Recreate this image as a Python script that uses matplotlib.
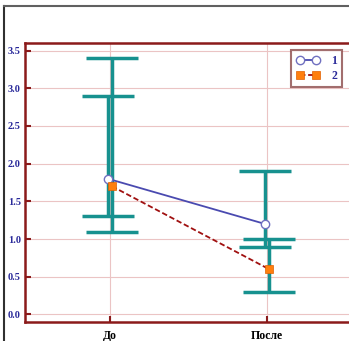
import numpy as np
import matplotlib.pyplot as plt
from matplotlib.lines import Line2D

# data
categorias = ['До', 'После']
media1 = [1.8, 1.2]
inf1 = [1.3, 0.9]
sup1 = [2.9, 1.9]
media2 = [1.7, 0.6]
inf2 = [1.1, 0.3]
sup2 = [3.4, 1.0]
yticks = [0.0, 0.5, 1.0, 1.5, 2.0, 2.5, 3.0, 3.5]

rojo = '#8B1A1A'
azul = '#2A2A9A'
teal = '#17918F'

fig = plt.figure(figsize=(3.49, 3.41), dpi=100)
# marco exterior de la figura
fig.add_artist(Line2D([4/349, 4/349], [0, 1 - 6/341], color='#303030', lw=1.5))
fig.add_artist(Line2D([4/349, 1], [1 - 6/341, 1 - 6/341], color='#606060', lw=1.5))

ax = fig.add_axes([25/349, 1 - 322/341, 327/349, 279/341])

x = np.arange(len(categorias))
d = 0.013

def serie(xs, media, inf, sup, **kw):
    media = np.array(media)
    yerr = [media - np.array(inf), np.array(sup) - media]
    ax.errorbar(xs, media, yerr=yerr, fmt='none', ecolor=teal, elinewidth=2.5,
                capsize=18.5, capthick=2.5, zorder=3)

serie(x - d, media1, inf1, sup1)
serie(x + d, media2, inf2, sup2)
ax.plot(x - d, media1, color='#4A4AB0', lw=1.3, marker='o', ms=6,
        mfc='white', mec='#7070C0', mew=1, zorder=4, label='1')
ax.plot(x + d, media2, color='#A01010', lw=1.3, ls=(0, (3, 1.5)), marker='s', ms=5.5,
        mfc='#FF7F0E', mec='#E06000', mew=0.5, zorder=4, label='2')

ax.set_xlim(-0.54, 1.54)
ax.set_ylim(-0.1, 3.6)
ax.set_xticks(x)
ax.set_xticklabels(categorias, fontfamily='Liberation Serif', fontweight='bold',
                   fontsize=8.5, color='black')
ax.set_yticks(yticks)
ax.set_yticklabels(['%.1f' % v for v in yticks], fontfamily='Liberation Serif',
                   fontweight='bold', fontsize=7.5, color=azul)
ax.tick_params(direction='in', color=rojo, width=1.5, length=4, pad=3)
ax.tick_params(axis='x', pad=6)
ax.grid(True, color='#EBC4C4', lw=0.8)
ax.set_axisbelow(True)
for s in ax.spines.values():
    s.set_color(rojo)
    s.set_linewidth(1.8)

leg = ax.legend(loc='upper right', bbox_to_anchor=(342/349, 1 - 50/341),
                bbox_transform=fig.transFigure, borderaxespad=0, numpoints=2,
                fancybox=False, handlelength=2.0, borderpad=0.4, labelspacing=0.3,
                handletextpad=1.0,
                prop={'family': 'Liberation Serif', 'weight': 'bold', 'size': 8.5})
leg.get_frame().set_edgecolor('#8B4A4A')
leg.get_frame().set_linewidth(1.5)
for t in leg.get_texts():
    t.set_color(azul)

fig.savefig('out.png', dpi=100)
